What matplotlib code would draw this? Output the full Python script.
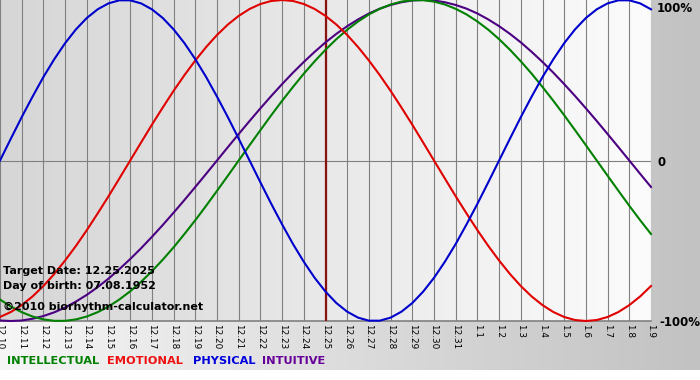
import numpy as np
import matplotlib.pyplot as plt
from matplotlib.colors import LinearSegmentedColormap

# ── Data (values in %, every half day) ───────────────────────────────
dates = ["12.10", "12.11", "12.12", "12.13", "12.14", "12.15", "12.16",
         "12.17", "12.18", "12.19", "12.20", "12.21", "12.22", "12.23",
         "12.24", "12.25", "12.26", "12.27", "12.28", "12.29", "12.30",
         "12.31", "1.1", "1.2", "1.3", "1.4", "1.5", "1.6", "1.7", "1.8",
         "1.9"]

physical = [0, 13.6, 27.0, 39.8, 52.0, 63.1, 73.1, 81.7, 88.8, 94.2, 97.9,
            99.8, 99.8, 97.9, 94.2, 88.8, 81.7, 73.1, 63.1, 52.0, 39.8, 27.0,
            13.6, 0, -13.6, -27.0, -39.8, -52.0, -63.1, -73.1, -81.7, -88.8,
            -94.2, -97.9, -99.8, -99.8, -97.9, -94.2, -88.8, -81.7, -73.1,
            -63.1, -52.0, -39.8, -27.0, -13.6, 0, 13.6, 27.0, 39.8, 52.0,
            63.1, 73.1, 81.7, 88.8, 94.2, 97.9, 99.8, 99.8, 97.9, 94.2]
emotional = [-97.5, -94.4, -90.1, -84.7, -78.2, -70.7, -62.3, -53.2, -43.4,
             -33.0, -22.3, -11.2, 0, 11.2, 22.3, 33.0, 43.4, 53.2, 62.3,
             70.7, 78.2, 84.7, 90.1, 94.4, 97.5, 99.4, 100, 99.4, 97.5, 94.4,
             90.1, 84.7, 78.2, 70.7, 62.3, 53.2, 43.4, 33.0, 22.3, 11.2, 0,
             -11.2, -22.3, -33.0, -43.4, -53.2, -62.3, -70.7, -78.2, -84.7,
             -90.1, -94.4, -97.5, -99.4, -100, -99.4, -97.5, -94.4, -90.1,
             -84.7, -78.2]
intellectual = [-86.6, -91.0, -94.5, -97.2, -99.0, -99.9, -99.9, -99.0,
                -97.2, -94.5, -91.0, -86.6, -81.5, -75.6, -69.0, -61.8,
                -54.1, -45.8, -37.2, -28.2, -18.9, -9.5, 0, 9.5, 18.9, 28.2,
                37.2, 45.8, 54.1, 61.8, 69.0, 75.6, 81.5, 86.6, 91.0, 94.5,
                97.2, 99.0, 99.9, 99.9, 99.0, 97.2, 94.5, 91.0, 86.6, 81.5,
                75.6, 69.0, 61.8, 54.1, 45.8, 37.2, 28.2, 18.9, 9.5, 0, -9.5,
                -18.9, -28.2, -37.2, -45.8]
intuitive = [-99.7, -100, -99.7, -98.6, -96.9, -94.6, -91.6, -87.9, -83.7,
             -78.9, -73.6, -67.7, -61.4, -54.7, -47.6, -40.2, -32.5, -24.6,
             -16.5, -8.3, 0, 8.3, 16.5, 24.6, 32.5, 40.2, 47.6, 54.7, 61.4,
             67.7, 73.6, 78.9, 83.7, 87.9, 91.6, 94.6, 96.9, 98.6, 99.7, 100,
             99.7, 98.6, 96.9, 94.6, 91.6, 87.9, 83.7, 78.9, 73.6, 67.7, 61.4,
             54.7, 47.6, 40.2, 32.5, 24.6, 16.5, 8.3, 0, -8.3, -16.5]

target_day = "12.25"
info_lines = ["Target Date: 12.25.2025", "Day of birth: 07.08.1952"]
credit = "\u00a92010 biorhythm-calculator.net"

C_INT = "#008000"
C_EMO = "#e00000"
C_PHY = "#0000cc"
C_ITU = "#4b0082"

W, H = 700, 380
fig = plt.figure(figsize=(W / 100, H / 100), dpi=100)
fig.patch.set_facecolor("white")

# ── Hintergrund (Verlauf hell -> grau) ───────────────────────────────
grad = np.linspace(0, 1, 256).reshape(1, -1)
bg = fig.add_axes([0, 0, 1, 1])
bg.set_xlim(0, W)
bg.set_ylim(H, 0)
bg.axis("off")
bg.imshow(grad, extent=(0, W, 370, 0), aspect="auto", zorder=0,
          cmap=LinearSegmentedColormap.from_list("bgg", ["#f6f6f6", "#c2c2c2"]))

# ── Plotbereich ──────────────────────────────────────────────────────
pw, ph = 651, 321
ax = fig.add_axes([0, 1 - ph / H, pw / W, ph / H])
x = np.arange(len(dates))
t = np.arange(len(physical)) / 2
ax.set_xlim(0, len(dates) - 1)
ax.set_ylim(-100, 100)
ax.imshow(grad, extent=(0, len(dates) - 1, -100, 100), aspect="auto",
          zorder=0,
          cmap=LinearSegmentedColormap.from_list("plg", ["#d6d6d6", "#fcfcfc"]))

for xi in x:
    ax.axvline(xi, color="#808080", lw=0.8, zorder=1)
ax.axhline(0, color="#808080", lw=0.8, zorder=1)
ax.axhline(-100, color="#808080", lw=1.2, zorder=1, clip_on=False)

ax.axvline(dates.index(target_day), color="#8b1010", lw=1.6, zorder=2)

for vals, col in [(intuitive, C_ITU), (intellectual, C_INT),
                  (emotional, C_EMO), (physical, C_PHY)]:
    ax.plot(t, vals, color=col, lw=1.5, zorder=3, clip_on=False,
            solid_joinstyle="round")

for s in ax.spines.values():
    s.set_visible(False)
ax.tick_params(length=0, pad=2)
ax.set_xticks(x)
ax.set_xticklabels(dates, rotation=-90, fontsize=6.4, va="top")
ax.set_yticks([])

# Beschriftung rechts
for lbl, px, py in [("100%", 657, 8), ("0", 657, 162), ("-100%", 659, 322)]:
    fig.text(px / W, 1 - py / H, lbl, fontsize=8.5, fontweight="bold",
             va="center", ha="left")

# Infotexte
for i, line in enumerate(info_lines):
    fig.text(3 / W, 1 - (271 + 15 * i) / H, line, fontsize=8,
             fontweight="bold", va="center", ha="left", zorder=5)
fig.text(3 / W, 1 - 307 / H, credit, fontsize=8, fontweight="bold",
         va="center", ha="left", zorder=5)

# Legende
legend = [("INTELLECTUAL", C_INT, 7), ("EMOTIONAL", "#ee1111", 107),
          ("PHYSICAL", "#0000dd", 193), ("INTUITIVE", "#660099", 262)]
for name, col, px in legend:
    fig.text(px / W, 1 - 361 / H, name, color=col, fontsize=8.2,
             fontweight="bold", va="center", ha="left")

fig.savefig("out.png", dpi=100, facecolor="white")
